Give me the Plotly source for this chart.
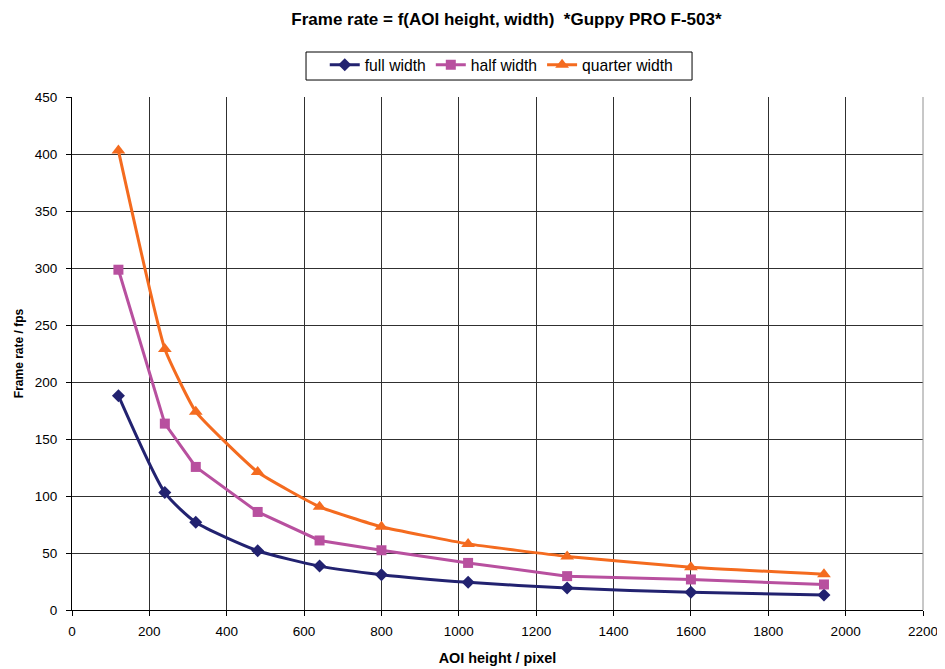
import plotly.graph_objects as go

aoi_height = [120, 240, 320, 480, 640, 800, 1024, 1280, 1600, 1944]
full_width = [188, 103, 77, 52, 38.5, 31, 24.3, 19.2, 15.5, 13.1]
half_width = [298.5, 163.5, 125.5, 86, 61, 52.4, 41.3, 29.7, 26.8, 22.4]
quarter_width = [403, 229, 174, 121, 90.5, 73, 58, 47, 37.5, 31.4]

x_ticks = list(range(0, 2201, 200))
y_ticks = list(range(0, 451, 50))

font_family = "Liberation Sans, Arial, sans-serif"

fig = go.Figure()
fig.add_trace(go.Scatter(
    x=aoi_height, y=full_width, name="full width", mode="lines+markers",
    line=dict(color="#222270", width=3, shape="spline", smoothing=0.6),
    marker=dict(symbol="diamond", size=10, color="#222270")))
fig.add_trace(go.Scatter(
    x=aoi_height, y=half_width, name="half width", mode="lines+markers",
    line=dict(color="#B8509F", width=3),
    marker=dict(symbol="square", size=10, color="#B8509F")))
fig.add_trace(go.Scatter(
    x=aoi_height, y=quarter_width, name="quarter width", mode="lines+markers",
    line=dict(color="#F46B1F", width=3, shape="spline", smoothing=0.4),
    marker=dict(symbol="triangle-up", size=12, color="#F46B1F")))

# page body has an 8px default margin, so the figure is sized to fit the window
fig.update_layout(
    width=937, height=661,
    margin=dict(l=64, r=22, t=89, b=59, autoexpand=False),
    paper_bgcolor="white", plot_bgcolor="white",
    font=dict(family=font_family, size=13.5, color="black"),
    title=dict(text="<b>Frame rate = f(AOI height, width)  *Guppy PRO F-503*</b>",
               x=0.532, xref="container", xanchor="center",
               y=0.983, yref="container", yanchor="middle",
               font=dict(size=17, family=font_family, color="black")),
    legend=dict(orientation="h", x=0.505, xanchor="center", y=1.0624, yanchor="middle",
                borderwidth=0, bgcolor="rgba(0,0,0,0)",
                font=dict(size=15.7, family=font_family), itemwidth=30,
                tracegroupgap=0),
    showlegend=True,
)
# legend frame
fig.add_shape(type="rect", xref="paper", yref="paper",
              x0=0.275, x1=0.7286, y0=1.0331, y1=1.0877,
              line=dict(color="black", width=1), fillcolor="white", layer="below")
fig.update_xaxes(
    range=[0, 2200], tickvals=x_ticks, ticktext=[str(v) for v in x_ticks],
    showgrid=True, gridcolor="#303030", gridwidth=1,
    showline=True, linecolor="black", linewidth=1, mirror=False,
    ticks="outside", ticklen=5, tickcolor="black",
    zeroline=False, automargin=False, ticklabelstandoff=4,
    title=dict(text="<b>AOI height / pixel</b>", font=dict(size=14.4), standoff=14),
    tickfont=dict(size=13.5),
)
fig.update_yaxes(
    range=[0, 450], tickvals=y_ticks, ticktext=[str(v) for v in y_ticks],
    showgrid=True, gridcolor="#303030", gridwidth=1,
    showline=True, linecolor="black", linewidth=1,
    ticks="outside", ticklen=5, tickcolor="black",
    zeroline=False, automargin=False, ticklabelstandoff=6,
    title=dict(text="<b>Frame rate / fps</b>", font=dict(size=12), standoff=8),
    tickfont=dict(size=13.5),
)
fig.add_shape(type="line", xref="paper", yref="paper", x0=1, x1=1, y0=0, y1=1,
              line=dict(color="#909090", width=1))

fig.write_html("out.html")
